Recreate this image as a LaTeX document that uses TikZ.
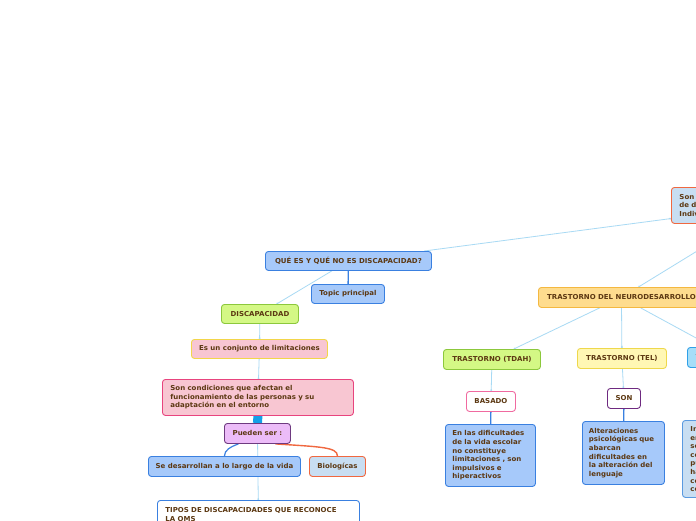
\documentclass[tikz,border=0pt]{standalone}
\usepackage{fontspec}
\setmainfont{DejaVu Sans}[FakeStretch=1.03]
\usetikzlibrary{backgrounds,arrows.meta}
\definecolor{txt}{RGB}{92,56,18}
\definecolor{bluef}{RGB}{166,201,250}
\definecolor{blueb}{RGB}{58,128,224}
\definecolor{greenf}{RGB}{212,248,133}
\definecolor{greenb}{RGB}{140,200,60}
\definecolor{pinkf}{RGB}{248,198,210}
\definecolor{yellb}{RGB}{242,214,74}
\definecolor{pinkb}{RGB}{232,68,126}
\definecolor{lilf}{RGB}{236,188,248}
\definecolor{lilb}{RGB}{110,58,128}
\definecolor{paleb}{RGB}{200,222,242}
\definecolor{orb}{RGB}{240,104,64}
\definecolor{tndf}{RGB}{254,220,142}
\definecolor{tndb}{RGB}{244,184,64}
\definecolor{telf}{RGB}{255,247,180}
\definecolor{telb}{RGB}{238,216,76}
\definecolor{cyf}{RGB}{166,222,248}
\definecolor{cyb}{RGB}{48,160,232}
\definecolor{basb}{RGB}{240,106,160}
\definecolor{sonb}{RGB}{110,42,128}
\definecolor{lnc}{RGB}{168,218,244}
\definecolor{barc}{RGB}{20,160,232}
\definecolor{midb}{RGB}{90,154,224}
\definecolor{dotc}{RGB}{90,170,220}
\begin{document}
\begin{tikzpicture}[x=1pt,y=-1pt,
  bx/.style={draw, rounded corners=3pt, line width=0.9pt, text=txt,
    font=\bfseries\fontsize{6.8}{8.6}\selectfont, inner sep=0pt,
    anchor=north west, align=center},
  lbx/.style={bx, align=left, inner xsep=8pt},
  ln/.style={draw=lnc, line width=0.8pt, -{Circle[length=1.8pt,fill=dotc]}},
  thk/.style={draw=blueb, line width=1.3pt}]
\useasboundingbox (0,0) rectangle (696,520);
% left branch
\node[bx, fill=bluef, draw=blueb, minimum width=166pt, minimum height=19pt] (q) at (265,251) {QUÉ ES Y QUÉ NO ES DISCAPACIDAD?};
\node[bx, fill=bluef, draw=blueb, minimum width=73pt, minimum height=19pt] (tp) at (311,284) {Topic principal};
\node[bx, fill=greenf, draw=greenb, minimum width=77pt, minimum height=19pt] (disc) at (221,304) {DISCAPACIDAD};
\node[bx, fill=pinkf, draw=yellb, minimum width=136pt, minimum height=19pt] (conj) at (191,339) {Es un conjunto de limitaciones};
\node[lbx, fill=pinkf, draw=pinkb, text width=175pt, minimum height=36pt] (cond) at (162,379) {Son condiciones que afectan el\\funcionamiento de las personas y su\\adaptación en el entorno};
\node[bx, fill=lilf, draw=lilb, minimum width=66pt, minimum height=20pt] (pue) at (224,423) {Pueden ser :};
\node[bx, fill=bluef, draw=blueb, minimum width=152pt, minimum height=20pt] (sed) at (148,456) {Se desarrollan a lo largo de la vida};
\node[bx, fill=paleb, draw=orb, minimum width=56pt, minimum height=20pt] (bio) at (309,456) {Biologícas};
\node[lbx, fill=white, draw=blueb, text width=186pt, inner ysep=7pt] (tip) at (157,500) {TIPOS DE DISCAPACIDADES QUE RECONOCE\\LA OMS};
% right branch
\node[lbx, fill=paleb, draw=orb, text width=184pt, minimum height=36pt] (n10) at (671,187) {Son alteraciones que afectan el desarrollo\\de diferentes funciones del\\Individuo};
\node[bx, fill=tndf, draw=tndb, minimum width=166pt, minimum height=20pt] (tnd) at (538,287) {TRASTORNO DEL NEURODESARROLLO};
\node[bx, fill=greenf, draw=greenb, minimum width=97pt, minimum height=20pt] (tdah) at (443,349) {TRASTORNO (TDAH)};
\node[bx, fill=telf, draw=telb, minimum width=89pt, minimum height=20pt] (tel) at (577,348) {TRASTORNO (TEL)};
\node[bx, fill=cyf, draw=cyb, minimum width=89pt, minimum height=20pt] (tea) at (687,347) {TRASTORNO (TEA)};
\node[bx, fill=white, draw=basb, minimum width=49pt, minimum height=20pt] (bas) at (466,391) {BASADO};
\node[bx, fill=white, draw=sonb, minimum width=33pt, minimum height=20pt] (son) at (607,388) {SON};
\node[lbx, fill=bluef, draw=blueb, text width=76pt, inner xsep=7pt, minimum height=62pt] (en) at (445,424) {En las dificultades\\de la vida escolar\\no constituye\\limitaciones , son\\impulsivos e\\hiperactivos};
\node[lbx, fill=bluef, draw=blueb, text width=69pt, inner xsep=6.5pt, minimum height=63pt] (alt) at (582,421) {Alteraciones\\psicológicas que\\abarcan\\dificultades en\\la alteración del\\lenguaje};
\node[lbx, fill=paleb, draw=midb, text width=80pt, minimum height=77pt] (n19) at (682,420) {Interacción\\en la\\social\\comunicación\\pueden\\hablar\\con\\conductas};
\begin{pgfonlayer}{background}
\fill[white] (0,0) rectangle (696,520);
\draw[ln] (q) -- (n10);
\draw[ln] (n10) -- (tnd);
\draw[ln] (q) -- (disc);
\draw[thk] (q) -- (tp);
\draw[ln] (disc) -- (conj);
\draw[ln] (conj) -- (cond);
\draw[draw=barc, line width=9pt] (cond.south) -- (pue.north);
\draw[ln] (pue) -- (tip);
\draw[draw=blueb, line width=1.2pt] ([xshift=-19pt]pue.south) .. controls ++(-8,3) and ++(0,-6) .. (sed.north);
\draw[draw=orb, line width=1.4pt] ([xshift=18pt]pue.south) .. controls ++(45,3) and ++(0,-9) .. (bio.north);
\draw[ln] (tnd) -- (tdah);
\draw[ln] (tnd) -- (tel);
\draw[ln] (tnd) -- (tea);
\draw[ln] (tdah) -- (bas);
\draw[ln] (tel) -- (son);
\draw[thk] (bas) -- (en);
\draw[thk] (son) -- (alt);
\draw[thk] (tea) -- (n19);
\end{pgfonlayer}
\end{tikzpicture}
\end{document}
